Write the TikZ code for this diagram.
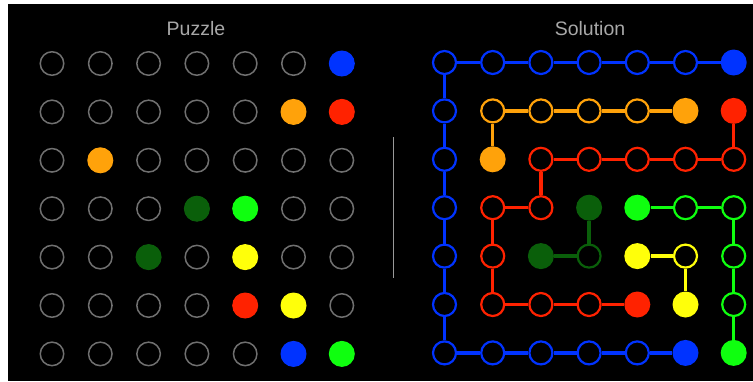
\documentclass[tikz,border=0pt]{standalone}
\usepackage{fontspec}
\setmainfont{Liberation Sans}
\definecolor{cblue}{HTML}{0033FF}
\definecolor{cred}{HTML}{FF2200}
\definecolor{corange}{HTML}{FFA20A}
\definecolor{cdkgreen}{HTML}{0A5F0A}
\definecolor{cgreen}{HTML}{0FFF0F}
\definecolor{cyellow}{HTML}{FFFF0A}
\definecolor{cgray}{HTML}{707070}
\definecolor{ctitle}{HTML}{A8A8A8}
\tikzset{
  pempty/.style={circle, draw=cgray, fill=black, line width=1.5pt, minimum size=23.5pt, inner sep=0pt},
  pfill/.style={circle, fill=#1, minimum size=26pt, inner sep=0pt},
  shol/.style={circle, draw=#1, fill=black, line width=2.2pt, minimum size=23pt, inner sep=0pt},
  sfil/.style={circle, fill=#1, minimum size=26pt, inner sep=0pt},
  conn/.style={draw=#1, line width=3.3pt},
  title/.style={text=ctitle, font=\fontsize{19.5}{22}\selectfont, anchor=base, inner sep=0pt},
}
\begin{document}
\begin{tikzpicture}[x=1pt, y=-1pt]
\useasboundingbox (0,0) rectangle (753,381);
\fill[white] (0,0) rectangle (753,381);
\fill[black] (8,4) rectangle (753,381);
\node[title] (tp) at (196,35.5) {Puzzle};
\node[title] (ts) at (590,35.5) {Solution};
\coordinate (d1) at (393.7,137);
\coordinate (d2) at (393.7,278);
\draw[draw=gray!80, line width=1.5pt] (d1) -- (d2);
% puzzle grid
\foreach \r in {0,...,6}{
  \foreach \c in {0,...,6}{
    \node[pempty] (p-\r-\c) at ({52+48.3*\c},{63.5+48.4*\r}) {};
  }
}
\foreach \r/\c/\col in {0/6/cblue,1/5/corange,1/6/cred,2/1/corange,3/3/cdkgreen,3/4/cgreen,4/2/cdkgreen,4/4/cyellow,5/4/cred,5/5/cyellow,6/5/cblue,6/6/cgreen}{
  \node[pfill=\col] (pf-\r-\c) at ({52+48.3*\c},{63.5+48.4*\r}) {};
}
% solution hollow cells
\foreach \r/\c/\col in {
  0/0/cblue,0/1/cblue,0/2/cblue,0/3/cblue,0/4/cblue,0/5/cblue,
  1/0/cblue,1/1/corange,1/2/corange,1/3/corange,1/4/corange,
  2/0/cblue,2/2/cred,2/3/cred,2/4/cred,2/5/cred,2/6/cred,
  3/0/cblue,3/1/cred,3/2/cred,3/5/cgreen,3/6/cgreen,
  4/0/cblue,4/1/cred,4/3/cdkgreen,4/5/cyellow,4/6/cgreen,
  5/0/cblue,5/1/cred,5/2/cred,5/3/cred,5/6/cgreen,
  6/0/cblue,6/1/cblue,6/2/cblue,6/3/cblue,6/4/cblue}{
  \node[shol=\col] (s-\r-\c) at ({444.5+48.2*\c},{62.5+48.4*\r}) {};
}
% solution filled cells
\foreach \r/\c/\col in {0/6/cblue,1/5/corange,1/6/cred,2/1/corange,3/3/cdkgreen,3/4/cgreen,4/2/cdkgreen,4/4/cyellow,5/4/cred,5/5/cyellow,6/5/cblue,6/6/cgreen}{
  \node[sfil=\col] (s-\r-\c) at ({444.5+48.2*\c},{62.5+48.4*\r}) {};
}
% paths
\draw[conn=cblue] (s-0-6) -- (s-0-5) -- (s-0-4) -- (s-0-3) -- (s-0-2) -- (s-0-1) -- (s-0-0)
  -- (s-1-0) -- (s-2-0) -- (s-3-0) -- (s-4-0) -- (s-5-0) -- (s-6-0)
  -- (s-6-1) -- (s-6-2) -- (s-6-3) -- (s-6-4) -- (s-6-5);
\draw[conn=corange] (s-1-5) -- (s-1-4) -- (s-1-3) -- (s-1-2) -- (s-1-1) -- (s-2-1);
\draw[conn=cred] (s-1-6) -- (s-2-6) -- (s-2-5) -- (s-2-4) -- (s-2-3) -- (s-2-2) -- (s-3-2)
  -- (s-3-1) -- (s-4-1) -- (s-5-1) -- (s-5-2) -- (s-5-3) -- (s-5-4);
\draw[conn=cdkgreen] (s-3-3) -- (s-4-3) -- (s-4-2);
\draw[conn=cgreen] (s-3-4) -- (s-3-5) -- (s-3-6) -- (s-4-6) -- (s-5-6) -- (s-6-6);
\draw[conn=cyellow] (s-4-4) -- (s-4-5) -- (s-5-5);
\end{tikzpicture}
\end{document}
